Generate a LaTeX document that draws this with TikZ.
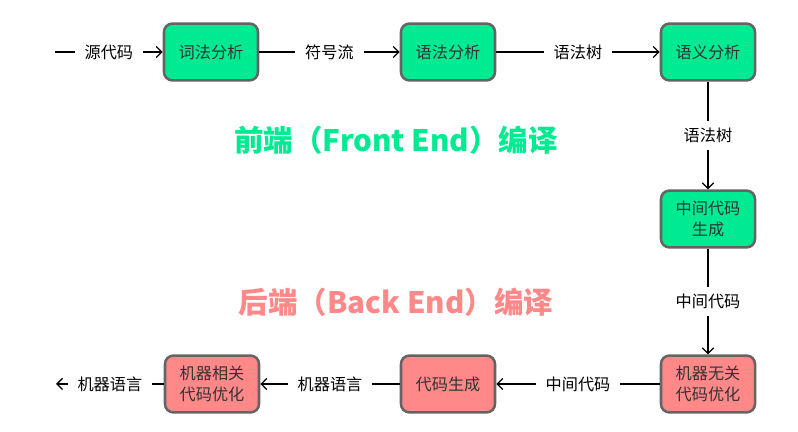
\documentclass[tikz,border=0pt]{standalone}
\usepackage{fontspec}
\setmainfont{Noto Sans CJK SC}
\usepackage{xcolor}
\usetikzlibrary{positioning, arrows.meta}
\definecolor{frontgreen}{RGB}{0,235,145}
\definecolor{backpink}{RGB}{255,136,136}
\definecolor{boxgray}{RGB}{100,100,100}

\begin{document}
\begin{tikzpicture}[x=0.025cm, y=-0.025cm,
    stage/.style={draw=boxgray, line width=1.8pt, rounded corners=6pt, minimum width=2.35cm, minimum height=1.42cm, align=center, text=black!80, font=\fontsize{11.5}{15}\selectfont},
    front/.style={stage, fill=frontgreen},
    back/.style={stage, fill=backpink},
    flow/.style={line width=0.9pt, -{Straight Barb[length=4pt, width=8pt]}},
    tag/.style={fill=white, inner xsep=7pt, inner ysep=5pt, font=\fontsize{11.5}{13}\selectfont},
    title/.style={font=\fontsize{21}{25}\selectfont\bfseries}]
          \useasboundingbox (0,0) rectangle (798,432);

          % front end
          \coordinate (src) at (55,52);
          \node[front] (n1) at (211,52) {词法分析};
          \node[front] (n2) at (448,52) {语法分析};
          \node[front] (n3) at (708,52) {语义分析};
          \node[front] (n4) at (708,219) {中间代码\\生成};

          % back end
          \node[back] (n5) at (708,384) {机器无关\\代码优化};
          \node[back] (n6) at (448,384) {代码生成};
          \node[back] (n7) at (212,384) {机器相关\\代码优化};
          \coordinate (out) at (56,384);

          \draw[flow] (src) -- node[tag] {源代码} (n1);
          \draw[flow] (n1) -- node[tag] {符号流} (n2);
          \draw[flow] (n2) -- node[tag] {语法树} (n3);
          \draw[flow] (n3) -- node[tag] {语法树} (n4);
          \draw[flow] (n4) -- node[tag] {中间代码} (n5);
          \draw[flow] (n5) -- node[tag] {中间代码} (n6);
          \draw[flow] (n6) -- node[tag] {机器语言} (n7);
          \draw[flow] (n7) -- node[tag] {机器语言} (out);

          \node[title, text=frontgreen] (fe) at (396,140) {前端（Front End）编译};
          \node[title, text=backpink] (be) at (396,302) {后端（Back End）编译};
        \end{tikzpicture}
\end{document}
